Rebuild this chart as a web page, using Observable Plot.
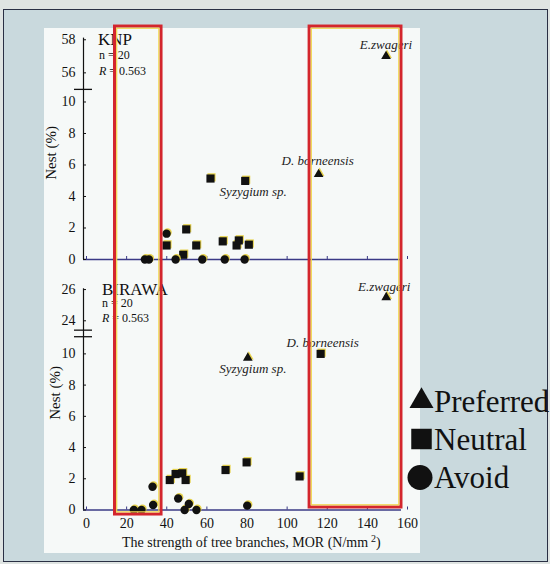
<!DOCTYPE html>
<html><head><meta charset="utf-8">
<script src="https://cdn.jsdelivr.net/npm/d3@7"></script>
<script src="https://cdn.jsdelivr.net/npm/@observablehq/plot@0.6"></script>
<style>
html,body{margin:0;padding:0;background:#dfe4e2;}
#wrap{position:relative;width:550px;height:564px;overflow:hidden;font-family:"Liberation Serif","Times New Roman",serif;}
#overlay text{font-family:"Liberation Serif","Times New Roman",serif;}
</style></head>
<body><div id="wrap">
<div style="position:absolute;left:3px;top:9px;width:543px;height:551px;background:#c9d9dd;border:1.5px solid #2a3044;"></div>
<div style="position:absolute;left:44px;top:28px;width:376px;height:525px;background:#f6f9f8;"></div>
<svg id="overlay" width="550" height="564" style="position:absolute;left:0;top:0;fill:#111">
  <text x="98" y="45" font-size="17">KNP</text>
  <text x="99" y="59" font-size="12">n = 20</text>
  <text x="99" y="75" font-size="12"><tspan font-style="italic">R</tspan> = 0.563</text>
  <text x="102" y="295" font-size="17">BIRAWA</text>
  <text x="102" y="307" font-size="12">n = 20</text>
  <text x="102" y="322" font-size="12"><tspan font-style="italic">R</tspan> = 0.563</text>
  <text transform="translate(56,153) rotate(-90)" text-anchor="middle" font-size="15">Nest (%)</text>
  <text transform="translate(60,393) rotate(-90)" text-anchor="middle" font-size="15">Nest (%)</text>
  <text x="122" y="547" font-size="14">The strength of tree branches, MOR (N/mm<tspan dx="3" dy="-5" font-size="10">2</tspan><tspan dy="5">)</tspan></text>
  <g id="legend"></g>
</svg>
</div>
<script>
// ---- data ----
const categories = ["Preferred", "Neutral", "Avoid"];
const xTicks = [0, 20, 40, 60, 80, 100, 120, 140, 160];

// KNP panel
const knpMOR  = [29.1, 31.1, 39.9, 44.4, 57.7, 68.9, 78.8, 39.9, 48.2, 49.7, 54.7, 61.8, 67.9, 74.8, 75.9, 79.1, 80.9, 115.7, 149.3];
const knpNest = [0, 0, 1.64, 0, 0, 0, 0, 0.89, 0.3, 1.91, 0.89, 5.14, 1.15, 0.89, 1.21, 4.99, 0.94, 5.41, 57.0];
const knpClass = ["Avoid","Avoid","Avoid","Avoid","Avoid","Avoid","Avoid",
  "Neutral","Neutral","Neutral","Neutral","Neutral","Neutral","Neutral","Neutral","Neutral","Neutral",
  "Preferred","Preferred"];
const knpName = ["","","","","","","","","","","","","","","","Syzygium sp.","","D. borneensis","E.zwageri"];
const knpTicks = [0, 2, 4, 6, 8, 10, 56, 58];
const knpBreak = [10.8, 55];   // axis cut: lower part ends, upper part starts

// BIRAWA panel
const birMOR  = [23.6, 27.4, 33.2, 32.9, 45.7, 48.9, 51.0, 54.8, 80.1, 41.5, 44.4, 47.7, 49.4, 69.3, 79.8, 106.2, 116.7, 80.4, 149.4];
const birNest = [0, 0, 0.32, 1.49, 0.74, 0, 0.38, 0, 0.28, 1.92, 2.3, 2.35, 1.92, 2.56, 3.05, 2.15, 10.0, 9.74, 25.5];
const birClass = ["Avoid","Avoid","Avoid","Avoid","Avoid","Avoid","Avoid","Avoid","Avoid",
  "Neutral","Neutral","Neutral","Neutral","Neutral","Neutral","Neutral","Neutral",
  "Preferred","Preferred"];
const birName = ["","","","","","","","","","","","","","","","","D. borneensis","Syzygium sp.","E.zwageri"];
const birTicks = [0, 2, 4, 6, 8, 10, 24, 26];
const birBreak = [11.1, 23.4];

// highlighted MOR ranges (red boxes)
const boxFrom = [14.2, 111.2];
const boxTo = [37.4, 157.0];
const birBoxBottom = [-0.29, 0.16];

// ---- drawing ----
const symbolOf = {Preferred: "triangle", Neutral: "square", Avoid: "circle"};
const sizeOf = {Preferred: 3.6, Neutral: 4.6, Avoid: 4.2};

// broken-axis transform: values above the cut are shifted down next to the lower part
function cut(lo, hi, gap, k) {
  const f = v => v <= lo ? v : lo + gap + (v - hi) * k;
  f.invert = u => u <= lo ? u : (u - lo - gap) / k + hi;
  return f;
}

function panel(o) {
  const T = o.T;
  const data = o.X.map((x, i) => ({x, y: o.Y[i], cls: o.C[i], name: o.N[i]}));
  const boxes = boxFrom.map((x1, i) => ({x1, x2: boxTo[i], top: o.boxTop, bottom: o.boxBottom[i]}));
  const yt = o.yTicks.map(T);
  const marks = [
    Plot.ruleY([0], {x1: -1.5, x2: 157, stroke: "#3a3a86", strokeWidth: 1.4}),
    Plot.ruleX([-1.5], {y1: 0, y2: T(o.yTop), stroke: "#111", strokeWidth: 1.2}),
    Plot.ruleY(o.breakLines.map(T), {x1: -6, x2: 3, stroke: "#111", strokeWidth: 1.3}),
    Plot.axisY({ticks: yt, tickSize: 0, tickPadding: 8, label: null, fontSize: 14, tickFormat: u => String(Math.round(T.invert(u)))}),
    Plot.axisY({ticks: yt, tickSize: 3, text: null, dx: 3, label: null}),
    Plot.axisX({ticks: xTicks, tickSize: 3, text: null, dy: -3, label: null, stroke: "#3a3a86"})
  ];
  if (o.xLabels) marks.push(Plot.axisX({ticks: xTicks, tickSize: 0, tickPadding: 8, label: null, fontSize: 14}));
  for (const c of categories) {
    const sub = data.filter(d => d.cls === c);
    marks.push(Plot.dot(sub, {x: "x", y: d => T(d.y), symbol: symbolOf[c], r: sizeOf[c], fill: "#e6d24c", dx: 1, dy: -1.2}));
    marks.push(Plot.dot(sub, {x: "x", y: d => T(d.y), symbol: symbolOf[c], r: sizeOf[c], fill: "#111"}));
  }
  for (const d of data.filter(d => d.name)) {
    const [dx, dy] = o.offsets[d.name];
    marks.push(Plot.text([d], {x: "x", y: d => T(d.y), text: "name", dx, dy, fontStyle: "italic", fontSize: 13, fill: "#222", textAnchor: "middle", lineAnchor: "middle"}));
  }
  marks.push(Plot.rect(boxes, {x1: "x1", x2: "x2", y1: d => T(d.top), y2: d => T(d.bottom), stroke: "#d3262d", strokeWidth: 3, fill: "none"}));
  marks.push(Plot.rect(boxes, {x1: "x1", x2: "x2", y1: d => T(d.top), y2: d => T(d.bottom), stroke: "#f0d64a", strokeWidth: 1.2, fill: "none", inset: 2.2}));
  const svg = Plot.plot({
    width: 550, height: o.height,
    marginLeft: 83, marginRight: 143, marginTop: o.yPx[1], marginBottom: o.height - o.yPx[0],
    style: {background: "transparent", fontFamily: "'Liberation Serif', serif", fontSize: "14px", color: "#111", overflow: "hidden"},
    x: {domain: [-1.5, 160], range: [83, 407]},
    y: {domain: [0, T(o.yMax)], range: o.yPx},
    marks
  });
  svg.style.position = "absolute";
  svg.style.left = "0px";
  svg.style.top = o.top + "px";
  document.getElementById("wrap").appendChild(svg);
}

panel({X: knpMOR, Y: knpNest, C: knpClass, N: knpName,
  T: cut(knpBreak[0], knpBreak[1], 0, 1.05), yMax: 58.5, yPx: [259, 31],
  yTicks: knpTicks, yTop: 58.1, breakLines: [knpBreak[0]], height: 266, top: 0, xLabels: false,
  boxTop: 58.8, boxBottom: [-1, -1],
  offsets: {"E.zwageri": [0, -11], "D. borneensis": [-1, -13], "Syzygium sp.": [8, 11]}});

panel({X: birMOR, Y: birNest, C: birClass, N: birName,
  T: cut(birBreak[0], birBreak[1], 0.42, 1), yMax: 26.6, yPx: [243.5, 13.7],
  yTicks: birTicks, yTop: 26.05, breakLines: birBreak, height: 298, top: 266, xLabels: true,
  boxTop: 30, boxBottom: birBoxBottom,
  offsets: {"E.zwageri": [-2, -11], "D. borneensis": [2, -11], "Syzygium sp.": [5, 11]}});

// legend
const lg = d3.select("#legend");
const legendY = [412, 450, 488];
categories.forEach((c, i) => {
  const b = legendY[i];
  const sym = d3.symbol().type(c === "Preferred" ? d3.symbolTriangle : c === "Neutral" ? d3.symbolSquare : d3.symbolCircle)
    .size(c === "Preferred" ? 250 : c === "Neutral" ? 420 : 490);
  lg.append("path").attr("d", sym()).attr("transform", `translate(${c === "Avoid" ? 420 : 421.5},${b - (c === "Avoid" ? 10.5 : 11)})`).attr("fill", "#111");
  lg.append("text").attr("x", 434).attr("y", b).attr("font-size", 31).text(c);
});
</script>
</body></html>
